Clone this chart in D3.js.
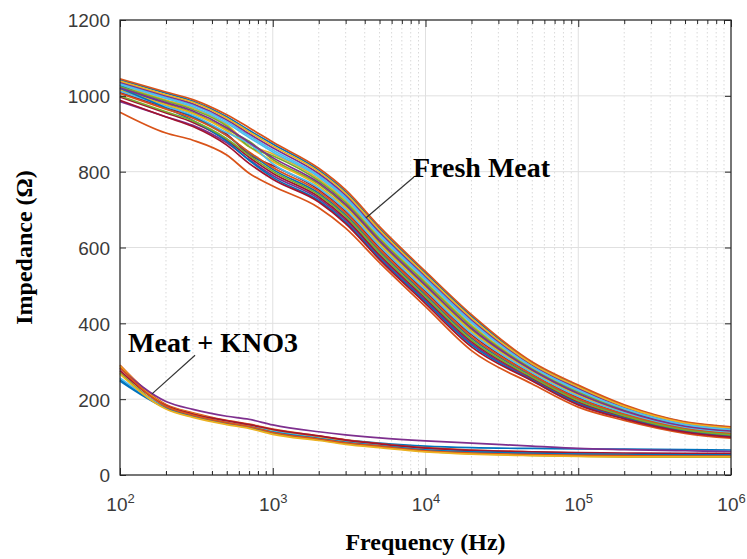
<!DOCTYPE html>
<html>
<head>
<meta charset="utf-8">
<script src="https://cdn.jsdelivr.net/npm/d3@7"></script>
<style>
  body { margin: 0; background: #fff; }
  svg { display: block; }
  .tick-label { font-family: "Liberation Sans", Arial, sans-serif; font-size: 19px; fill: #3a3a3a; }
  .serif-bold { font-family: "Liberation Serif", "Times New Roman", serif; font-weight: bold; fill: #000; }
</style>
</head>
<body>
<svg id="chart"></svg>
<script>
// ─── Data ─────────────────────────────────────────────────────────────
const FREQ = [100, 200, 300, 500, 700, 1e3, 2e3, 3e3, 5e3, 1e4, 2e4, 5e4, 1e5, 2e5, 5e5, 1e6];

// impedance (ohm) of fresh meat samples, one row per sweep
const FRESH_MEAT = [
  [1042, 1007, 986, 945, 909, 873, 804, 747, 650, 533, 419, 295, 234, 183, 139, 126],
  [1045, 1010, 990, 950, 916, 878, 809, 752, 655, 537, 423, 298, 237, 185, 140, 127],
  [1027,  989, 968, 924, 872, 847, 781, 724, 627, 510, 396, 282, 221, 173, 132, 119],
  [ 985,  945, 922, 876, 832, 790, 729, 672, 577, 461, 347, 253, 190, 152, 116, 103],
  [1018,  979, 956, 912, 880, 832, 767, 710, 614, 497, 383, 274, 212, 167, 127, 114],
  [1033,  996, 975, 932, 895, 857, 790, 733, 637, 519, 405, 287, 226, 177, 134, 121],
  [1009,  969, 945, 899, 845, 816, 753, 696, 600, 484, 370, 266, 204, 162, 123, 110],
  [1028,  975, 945, 895, 850, 806, 743, 686, 591, 475, 361, 261, 199, 158, 120, 107],
  [ 957,  902, 883, 844, 796, 762, 705, 651, 560, 444, 328, 240, 179, 144, 110,  97],
  [1015,  976, 953, 908, 866, 827, 762, 705, 609, 493, 379, 272, 210, 166, 126, 113],
  [1036, 1000, 979, 937, 900, 863, 795, 738, 641, 524, 410, 290, 229, 179, 136, 123],
  [1024,  986, 964, 920, 866, 842, 776, 719, 623, 506, 392, 279, 218, 171, 130, 117],
  [1012,  972, 949, 903, 874, 821, 757, 700, 604, 488, 374, 269, 207, 164, 125, 112],
  [ 997,  955, 930, 883, 838, 796, 734, 677, 581, 466, 352, 256, 193, 154, 118, 105],
  [1020,  968, 935, 880, 830, 785, 724, 667, 572, 457, 343, 250, 188, 150, 115, 102],
  [1006,  965, 941, 895, 852, 811, 748, 691, 595, 479, 365, 264, 201, 160, 122, 109],
  [1039, 1003, 983, 941, 905, 868, 800, 743, 646, 528, 414, 293, 232, 181, 137, 124],
  [1021,  982, 960, 916, 877, 837, 771, 714, 618, 501, 387, 277, 215, 169, 129, 116],
  [1000,  958, 934, 887, 843, 801, 739, 682, 586, 470, 356, 258, 196, 156, 119, 106],
  [1030,  993, 971, 928, 890, 852, 786, 729, 632, 515, 401, 285, 223, 175, 133, 120],
  [ 988,  944, 919, 870, 822, 780, 720, 663, 568, 452, 338, 248, 185, 148, 113, 100]
];

// impedance (ohm) of meat + KNO3 samples
const MEAT_KNO3 = [
  [252, 180, 160, 142, 131, 119, 101,  92, 84, 76, 72, 70, 69, 68, 67, 66],
  [290, 186, 164, 144, 134, 121, 103,  93, 83, 72, 66, 61, 58, 56, 55, 55],
  [287, 184, 162, 141, 131, 118, 100,  90, 80, 69, 63, 58, 55, 53, 52, 52],
  [281, 194, 173, 155, 147, 132, 114, 106, 98, 90, 84, 76, 70, 67, 64, 62],
  [270, 176, 154, 135, 125, 110,  93,  83, 74, 62, 56, 52, 50, 48, 47, 47],
  [256, 179, 158, 139, 128, 115,  97,  87, 78, 67, 62, 58, 56, 55, 54, 54],
  [275, 183, 161, 143, 133, 120, 103,  92, 82, 71, 65, 61, 59, 58, 57, 57],
  [248, 177, 156, 137, 127, 113,  96,  86, 77, 66, 61, 57, 55, 54, 53, 53],
  [283, 181, 158, 138, 128, 112,  95,  85, 76, 64, 58, 54, 52, 51, 50, 50],
  [266, 174, 152, 133, 123, 107,  91,  81, 72, 61, 55, 51, 49, 48, 48, 48]
];

const LINE_COLORS = ["#0072BD", "#D95319", "#EDB120", "#7E2F8E", "#77AC30", "#4DBEEE", "#A2142F"];
const Y_TICKS = [0, 200, 400, 600, 800, 1000, 1200];
const X_TICKS = [1e2, 1e3, 1e4, 1e5, 1e6];
const X_EXPONENTS = ["2", "3", "4", "5", "6"];

// ─── Layout ───────────────────────────────────────────────────────────
const W = 747, H = 559;
const margin = { top: 20, right: 16, bottom: 84, left: 120 };
const iw = W - margin.left - margin.right;
const ih = H - margin.top - margin.bottom;

const svg = d3.select("#chart").attr("width", W).attr("height", H);
const g = svg.append("g").attr("transform", `translate(${margin.left},${margin.top})`);

const x = d3.scaleLog().domain([1e2, 1e6]).range([0, iw]);
const y = d3.scaleLinear().domain([0, 1200]).range([ih, 0]);

// ─── Grid ─────────────────────────────────────────────────────────────
const minorTicks = x.ticks().filter(v => !X_TICKS.includes(v));

g.append("g").selectAll("line").data(minorTicks).join("line")
  .attr("x1", d => x(d)).attr("x2", d => x(d))
  .attr("y1", 0).attr("y2", ih)
  .attr("stroke", "#cfcfcf").attr("stroke-width", 0.8)
  .attr("stroke-dasharray", "1.5,2.5");

g.append("g").selectAll("line").data(X_TICKS).join("line")
  .attr("x1", d => x(d)).attr("x2", d => x(d))
  .attr("y1", 0).attr("y2", ih)
  .attr("stroke", "#e0e0e0").attr("stroke-width", 1);

g.append("g").selectAll("line").data(Y_TICKS).join("line")
  .attr("x1", 0).attr("x2", iw)
  .attr("y1", d => y(d)).attr("y2", d => y(d))
  .attr("stroke", "#e0e0e0").attr("stroke-width", 1);

// ─── Curves ───────────────────────────────────────────────────────────
const line = d3.line()
  .x((d, i) => x(FREQ[i]))
  .y(d => y(d))
  .curve(d3.curveMonotoneX);

const curves = g.append("g").attr("fill", "none").attr("stroke-width", 1.7);

curves.selectAll(".fresh").data(FRESH_MEAT).join("path")
  .attr("class", "fresh")
  .attr("d", line)
  .attr("stroke", (d, i) => LINE_COLORS[i % LINE_COLORS.length]);

curves.selectAll(".kno3").data(MEAT_KNO3).join("path")
  .attr("class", "kno3")
  .attr("d", line)
  .attr("stroke", (d, i) => LINE_COLORS[i % LINE_COLORS.length]);

// ─── Axes ─────────────────────────────────────────────────────────────
const axisColor = "#262626";

function styleAxis(sel) {
  sel.select(".domain").remove();
  sel.selectAll(".tick line").attr("stroke", axisColor);
}

// bottom major ticks with 10^n labels
const xAxis = g.append("g")
  .attr("transform", `translate(0,${ih})`)
  .call(d3.axisBottom(x).tickValues(X_TICKS).tickSizeInner(-7).tickSizeOuter(0).tickFormat(""))
  .call(styleAxis);

xAxis.selectAll(".tick text")
  .attr("class", "tick-label")
  .attr("y", 36).attr("dy", null)
  .attr("text-anchor", "middle")
  .each(function (d, i) {
    const t = d3.select(this);
    t.append("tspan").text("10");
    t.append("tspan").attr("dy", -8).attr("font-size", 13).text(X_EXPONENTS[i]);
  });

g.append("g")
  .attr("transform", `translate(0,${ih})`)
  .call(d3.axisBottom(x).tickValues(minorTicks).tickSizeInner(-4).tickSizeOuter(0).tickFormat(""))
  .call(styleAxis);

// top mirror ticks
g.append("g")
  .call(d3.axisTop(x).tickValues(X_TICKS).tickSizeInner(-7).tickSizeOuter(0).tickFormat(""))
  .call(styleAxis);
g.append("g")
  .call(d3.axisTop(x).tickValues(minorTicks).tickSizeInner(-4).tickSizeOuter(0).tickFormat(""))
  .call(styleAxis);

// left axis
const yAxis = g.append("g")
  .call(d3.axisLeft(y).tickValues(Y_TICKS).tickFormat(d3.format("d"))
    .tickSizeInner(-6).tickSizeOuter(0).tickPadding(10))
  .call(styleAxis);
yAxis.selectAll(".tick text").attr("class", "tick-label").attr("dy", "0.36em");

// right mirror ticks
g.append("g")
  .attr("transform", `translate(${iw},0)`)
  .call(d3.axisRight(y).tickValues(Y_TICKS).tickSizeInner(-6).tickSizeOuter(0).tickFormat(""))
  .call(styleAxis);

// frame
g.append("rect")
  .attr("width", iw).attr("height", ih)
  .attr("fill", "none").attr("stroke", axisColor).attr("stroke-width", 1.2);

// ─── Annotations ──────────────────────────────────────────────────────
const FRESH_LABEL = { text: "Fresh Meat", f: 8280, v: 786, from: [8400, 786], to: [4070, 678] };
const KNO3_LABEL = { text: "Meat + KNO3", f: 113, v: 324, from: [310, 316], to: [162, 214] };

[FRESH_LABEL, KNO3_LABEL].forEach(a => {
  g.append("line")
    .attr("x1", x(a.from[0])).attr("y1", y(a.from[1]))
    .attr("x2", x(a.to[0])).attr("y2", y(a.to[1]))
    .attr("stroke", "#333").attr("stroke-width", 1.2);
  g.append("text")
    .attr("class", "serif-bold")
    .attr("x", x(a.f)).attr("y", y(a.v))
    .attr("font-size", 28)
    .text(a.text);
});

// ─── Axis titles ──────────────────────────────────────────────────────
svg.append("text")
  .attr("class", "serif-bold")
  .attr("x", margin.left + iw / 2).attr("y", 550)
  .attr("text-anchor", "middle")
  .attr("font-size", 24)
  .text("Frequency (Hz)");

svg.append("text")
  .attr("class", "serif-bold")
  .attr("transform", `translate(32,${margin.top + ih / 2}) rotate(-90)`)
  .attr("text-anchor", "middle")
  .attr("font-size", 24)
  .text("Impedance (Ω)");
</script>
</body>
</html>
